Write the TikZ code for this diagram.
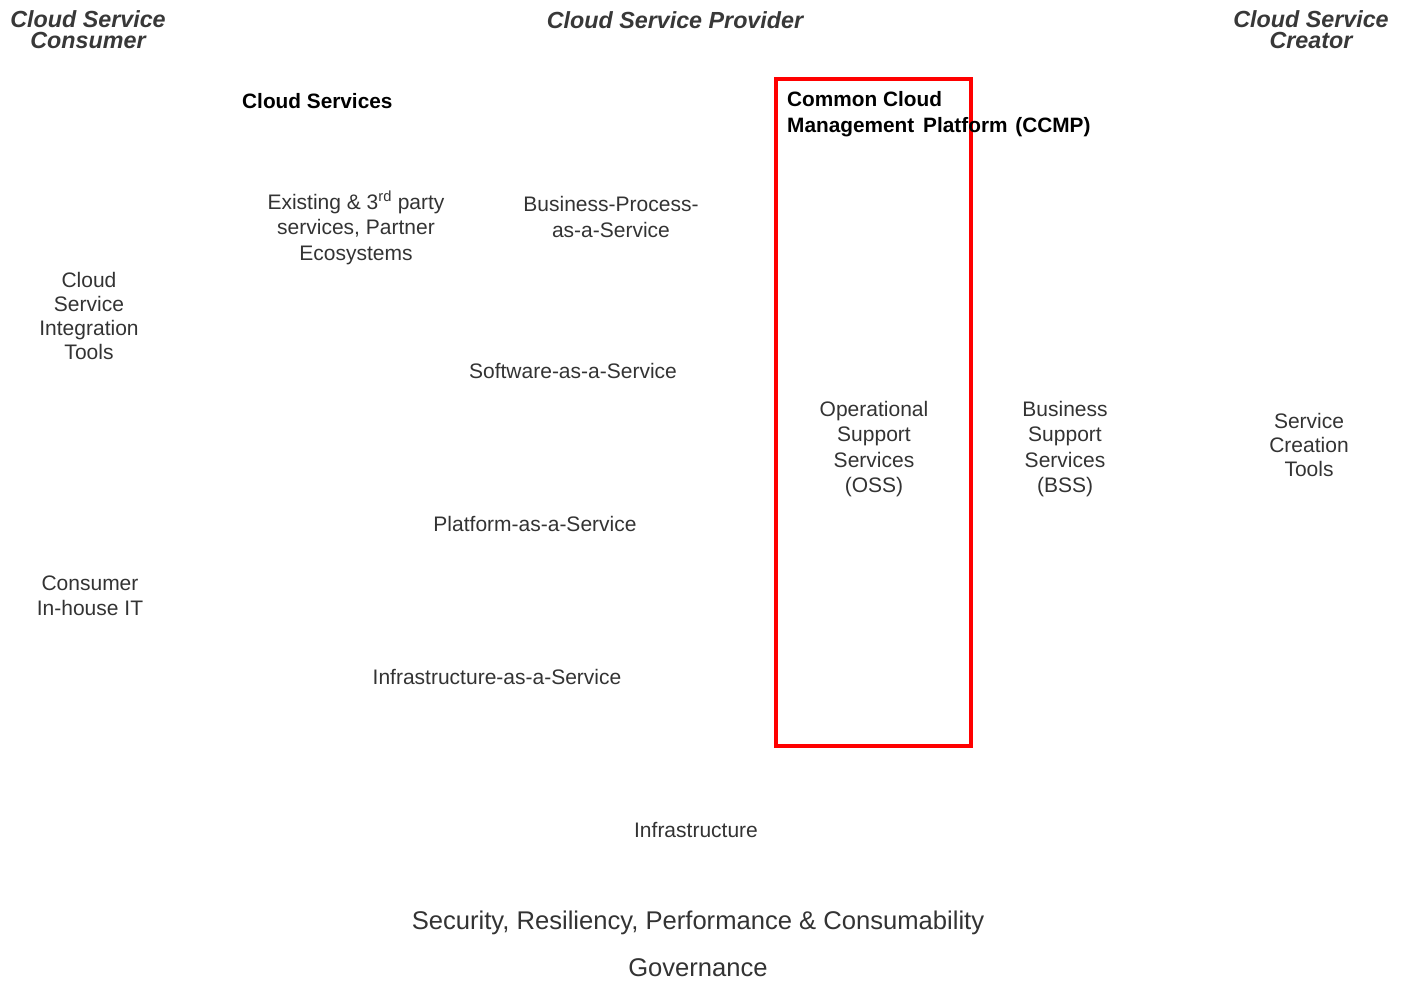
\documentclass[tikz,border=0pt]{standalone}
\usepackage{fontspec}
\setmainfont{Liberation Sans}
\definecolor{txt}{HTML}{333333}
\definecolor{hdr}{HTML}{383838}
\definecolor{ccmpred}{HTML}{FF0000}
\begin{document}
\begin{tikzpicture}[x=1pt,y=-1pt,
  lbl/.style={inner sep=0pt,align=center,text=txt,font=\fontsize{21}{25.5}\selectfont},
  lblr/.style={lbl,font=\fontsize{21}{24}\selectfont},
  hdrtxt/.style={inner sep=0pt,align=center,text=hdr,font=\fontsize{23.3}{21}\selectfont\bfseries\itshape},
  boldtxt/.style={inner sep=0pt,align=left,text=black,font=\fontsize{20.8}{26}\selectfont\bfseries},
  bigtxt/.style={inner sep=0pt,align=center,text=txt,font=\fontsize{25.6}{30}\selectfont},
  redbox/.style={draw=ccmpred,line width=4pt}
]
\useasboundingbox (0,0) rectangle (1403,989);
% headings
\node[hdrtxt] (consumer) at (88,30) {Cloud Service\\Consumer};
\node[hdrtxt] (provider) at (675,20) {Cloud Service Provider};
\node[hdrtxt] (creator) at (1311,30) {Cloud Service\\Creator};
% CCMP box
\draw[redbox] (776,79) rectangle (971,746);
\node[boldtxt,anchor=west] (cloudsvc) at (242,101) {Cloud Services};
\node[boldtxt,anchor=north west] (ccmp) at (787,91) {Common Cloud\\Management\hspace{0.15em} Platform\hspace{0.1em} (CCMP)};
% service texts
\node[lbl] (partner) at (356,228) {Existing \& 3\textsuperscript{rd} party\\services, Partner\\Ecosystems};
\node[lbl] (bpaas) at (611,217) {Business-Process-\\as-a-Service};
\node[lblr] (integ) at (89,316) {Cloud\\Service\\Integration\\Tools};
\node[lbl] (saas) at (573,371) {Software-as-a-Service};
\node[lbl] (oss) at (874,449) {Operational\\Support\\Services\\(OSS)};
\node[lbl] (bss) at (1065,449) {Business\\Support\\Services\\(BSS)};
\node[lblr] (sct) at (1309,445) {Service\\Creation\\Tools};
\node[lbl] (paas) at (535,524) {Platform-as-a-Service};
\node[lbl] (inhouse) at (90,596) {Consumer\\In-house IT};
\node[lbl] (iaas) at (497,677) {Infrastructure-as-a-Service};
\node[lbl] (infra) at (696,830) {Infrastructure};
\node[bigtxt] (security) at (698,923) {Security, Resiliency, Performance \& Consumability};
\node[bigtxt] (governance) at (698,968) {Governance};
\end{tikzpicture}
\end{document}
